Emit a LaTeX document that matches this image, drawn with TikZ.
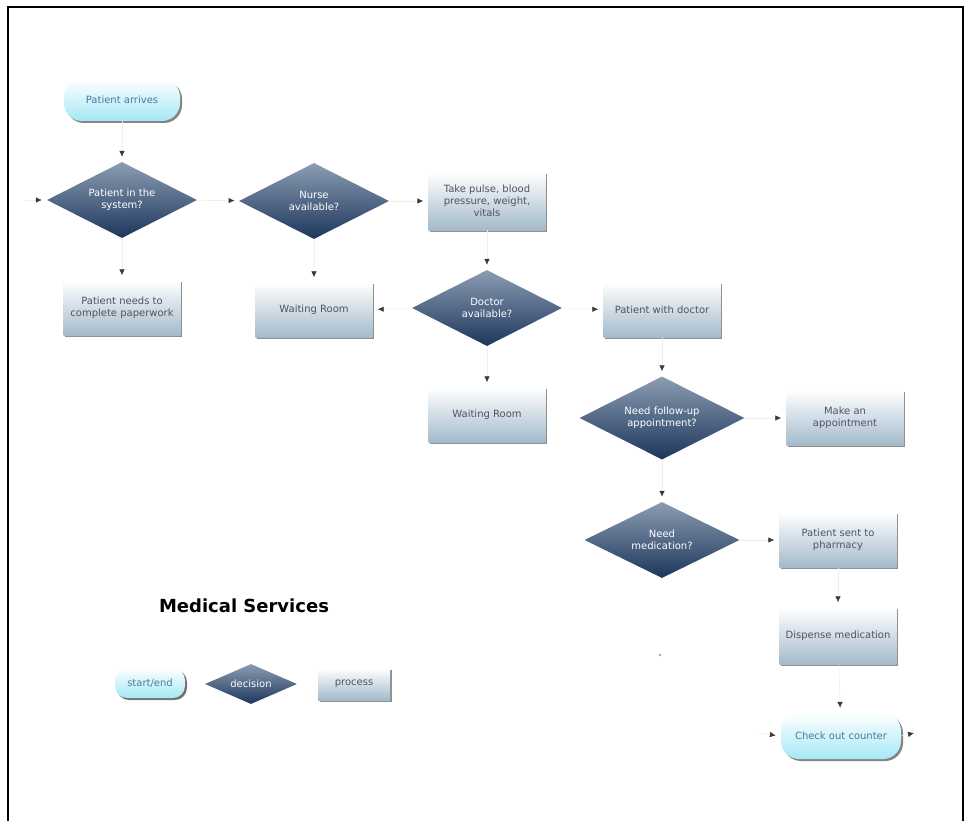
\documentclass[tikz,border=0pt]{standalone}
\usepackage{fontspec}
\setmainfont{DejaVu Sans}
\usetikzlibrary{shapes.geometric,shadows,arrows.meta}

\definecolor{navydark}{HTML}{1C365C}
\definecolor{navylight}{HTML}{8C9DB2}
\definecolor{steelbot}{HTML}{A3BACB}
\definecolor{cyanbot}{HTML}{A4E8F4}
\definecolor{boxtext}{HTML}{4E5560}
\definecolor{termtext}{HTML}{4F77A0}
\definecolor{linkgray}{HTML}{EEEEEE}
\definecolor{tipgray}{HTML}{3A3A3A}

\tikzset{
  labelfont/.style={font=\fontsize{10}{12}\selectfont},
  decision/.style={diamond, aspect=2, inner sep=0pt, draw=none,
    top color=navylight, bottom color=navydark, text=white,
    align=center, labelfont,
    minimum width=150pt, minimum height=76pt},
  process/.style={rectangle, draw=none, top color=white, bottom color=steelbot,
    text=boxtext, align=center, labelfont,
    minimum width=117pt, minimum height=55pt, inner sep=2pt,
    drop shadow={shadow xshift=1.6pt, shadow yshift=-1.6pt, fill=black!55, opacity=.8}},
  terminal/.style={rectangle, rounded corners=18pt, draw=none,
    top color=white, bottom color=cyanbot, text=termtext,
    labelfont,
    minimum width=116pt, minimum height=42pt,
    drop shadow={shadow xshift=2pt, shadow yshift=-2pt, fill=black!60, opacity=.8}},
  link/.style={draw=linkgray, line width=0.6pt, shorten >=5pt,
    -{Latex[length=6pt,width=5.5pt,color=tipgray]}},
}

\begin{document}
\begin{tikzpicture}[x=1pt,y=-1pt]
  \useasboundingbox (0,0) rectangle (966,821);
  \fill[white] (0,0) rectangle (966,821);
  % outer frame
  \draw[line width=2pt,black] (8,821) -- (8,7) -- (963,7) -- (963,821);

  % flow nodes
  \node[terminal] (arrive) at (122,100) {Patient arrives};
  \node[decision] (insys) at (122,200) {Patient in the\\system?};
  \node[decision] (nurse) at (314,201) {Nurse\\available?};
  \node[process, minimum height=58pt] (vitals) at (487,201) {Take pulse, blood\\pressure, weight,\\vitals};
  \node[process] (paper) at (122,308) {Patient needs to\\complete paperwork};
  \node[process] (wait1) at (314,310) {Waiting Room};
  \node[decision] (doctor) at (487,308) {Doctor\\available?};
  \node[process] (withdoc) at (662,310) {Patient with doctor};
  \node[process] (wait2) at (487,415) {Waiting Room};
  \node[decision, minimum width=165pt, minimum height=83pt] (follow) at (662,418) {Need follow-up\\appointment?};
  \node[process] (makeapp) at (845,418) {Make an\\appointment};
  \node[decision, minimum width=155pt] (medic) at (662,540) {Need\\medication?};
  \node[process] (pharm) at (838,540) {Patient sent to\\pharmacy};
  \node[process, minimum height=57pt] (dispense) at (838,636) {Dispense medication};
  \node[terminal, minimum width=120pt, minimum height=46pt] (checkout) at (841,736) {Check out counter};

  % free ends
  \coordinate (inA) at (25,200);
  \coordinate (inB) at (758,733);
  \coordinate (outB) at (914,733);

  % connectors
  \draw[link] (arrive) -- (insys);
  \draw[link] (inA) -- (insys.west);
  \draw[link] (insys) -- (nurse);
  \draw[link] (insys) -- (paper);
  \draw[link] (nurse) -- (vitals);
  \draw[link] (nurse) -- (wait1);
  \draw[link] (vitals) -- (doctor);
  \draw[link] (doctor) -- (wait1);
  \draw[link] (doctor) -- (withdoc);
  \draw[link] (doctor) -- (wait2);
  \draw[link] (withdoc) -- (follow);
  \draw[link] (follow) -- (makeapp);
  \draw[link] (follow) -- (medic);
  \draw[link] (medic) -- (pharm);
  \draw[link] (pharm) -- (dispense);
  \draw[link] (dispense) -- (checkout);
  \draw[link] (inB) -- (checkout.west);
  \draw[link, shorten >=0pt] (checkout.east) -- (outB);

  % small stray mark
  \fill[black!45] (660,655) circle (1.2pt);

  % legend
  \node[font=\fontsize{18}{20}\selectfont\bfseries, text=black] (title) at (244,606) {Medical Services};
  \node[terminal, minimum width=70pt, minimum height=30pt, rounded corners=12pt,
        drop shadow={shadow xshift=1.5pt, shadow yshift=-1.5pt, fill=black!60, opacity=.8}]
        (lgterm) at (150,683) {start/end};
  \node[decision, minimum width=92pt, minimum height=40pt] (lgdec) at (251,684) {decision};
  \node[process, minimum width=72pt, minimum height=32pt] (lgproc) at (354,684) {process};
\end{tikzpicture}
\end{document}
